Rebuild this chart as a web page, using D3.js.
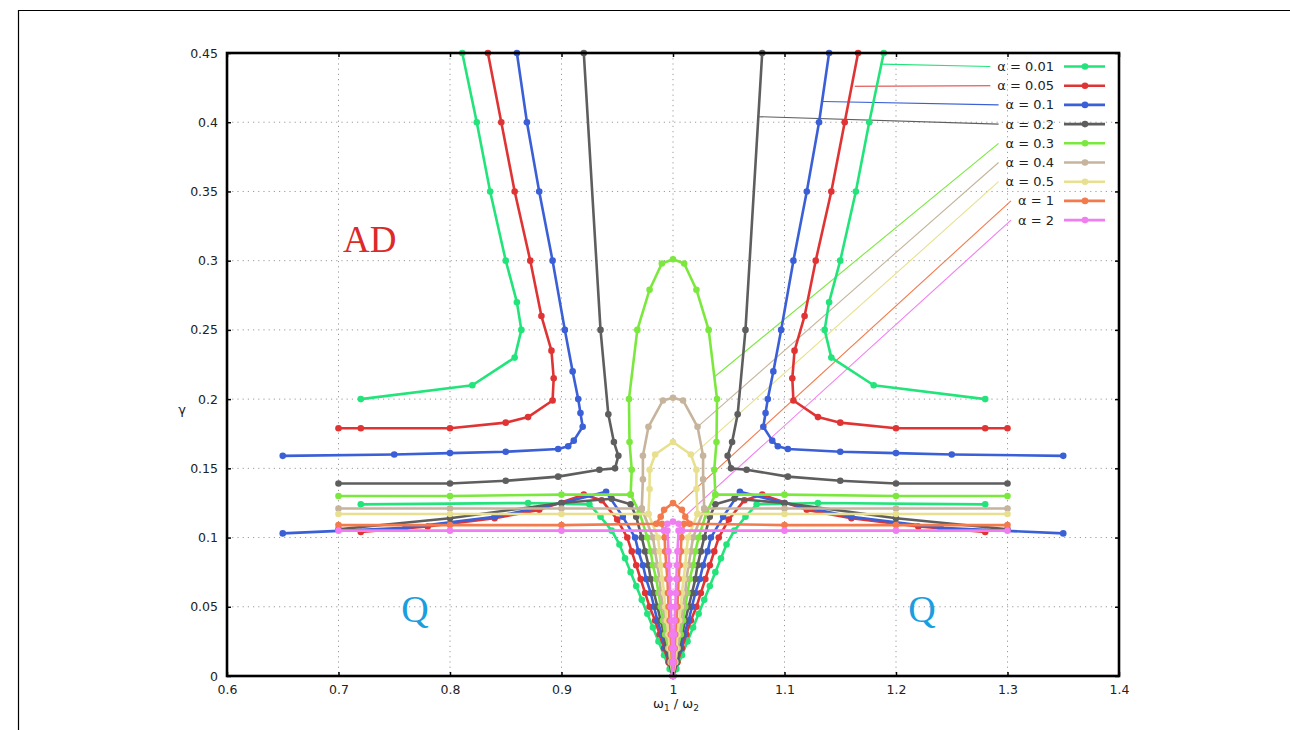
<!DOCTYPE html>
<html><head><meta charset="utf-8">
<script src="https://cdn.jsdelivr.net/npm/d3@7"></script>
<style>body{margin:0;background:#fff;} svg{display:block;}</style>
</head><body>
<svg id="c" width="1290" height="730"></svg>
<script>
// ---------- labels / ticks ----------
const alphaLabels = ["α = 0.01","α = 0.05","α = 0.1","α = 0.2","α = 0.3","α = 0.4","α = 0.5","α = 1","α = 2"];
const seriesColors = ["#22e47a","#e03434","#3a5fd6","#5e5e5e","#7be83e","#c6b49c","#e8e08e","#f27a4c","#f07ef0"];
const xTicks = [0.6,0.7,0.8,0.9,1.0,1.1,1.2,1.3,1.4];
const xTickLabels = ["0.6","0.7","0.8","0.9","1","1.1","1.2","1.3","1.4"];
const yTicks = [0,0.05,0.1,0.15,0.2,0.25,0.3,0.35,0.4,0.45];
const yTickLabels = ["0","0.05","0.1","0.15","0.2","0.25","0.3","0.35","0.4","0.45"];

// ---------- α = 0.01 ----------
const a001_up_L = [[0.72,0.200],[0.82,0.210],[0.858,0.230],[0.864,0.250],[0.860,0.270],[0.850,0.300],[0.836,0.350],[0.824,0.400],[0.811,0.450]];
const a001_up_R = [[1.28,0.200],[1.18,0.210],[1.142,0.230],[1.136,0.250],[1.140,0.270],[1.150,0.300],[1.164,0.350],[1.176,0.400],[1.189,0.450]];
const a001_low_L = [[0.72,0.124],[0.87,0.125],[0.925,0.124],[0.935,0.115],[0.945,0.105],[0.952,0.095],[0.957,0.085],[0.962,0.075],[0.967,0.065],[0.972,0.055],[0.977,0.045],[0.982,0.035],[0.987,0.025],[0.992,0.015],[0.997,0.005],[1.0,0.0]];
const a001_low_R = [[1.28,0.124],[1.13,0.125],[1.075,0.124],[1.065,0.115],[1.055,0.105],[1.048,0.095],[1.043,0.085],[1.038,0.075],[1.033,0.065],[1.028,0.055],[1.023,0.045],[1.018,0.035],[1.013,0.025],[1.008,0.015],[1.003,0.005],[1.0,0.0]];

// ---------- α = 0.05 ----------
const a005_up_L = [[0.70,0.179],[0.72,0.179],[0.80,0.179],[0.85,0.183],[0.87,0.187],[0.892,0.199],[0.893,0.215],[0.891,0.235],[0.882,0.260],[0.872,0.300],[0.858,0.350],[0.846,0.400],[0.834,0.450]];
const a005_up_R = [[1.30,0.179],[1.28,0.179],[1.20,0.179],[1.15,0.183],[1.13,0.187],[1.108,0.199],[1.107,0.215],[1.109,0.235],[1.118,0.260],[1.128,0.300],[1.142,0.350],[1.154,0.400],[1.166,0.450]];
const a005_low_L = [[0.72,0.104],[0.78,0.108],[0.84,0.114],[0.88,0.120],[0.92,0.131],[0.936,0.127],[0.950,0.113],[0.959,0.100],[0.963,0.090],[0.967,0.080],[0.971,0.070],[0.975,0.060],[0.979,0.050],[0.984,0.040],[0.988,0.030],[0.992,0.020],[0.996,0.010],[1.0,0.0]];
const a005_low_R = [[1.28,0.104],[1.22,0.108],[1.16,0.114],[1.12,0.120],[1.08,0.131],[1.064,0.127],[1.050,0.113],[1.041,0.100],[1.037,0.090],[1.033,0.080],[1.029,0.070],[1.025,0.060],[1.021,0.050],[1.016,0.040],[1.012,0.030],[1.008,0.020],[1.004,0.010],[1.0,0.0]];

// ---------- α = 0.1 ----------
const a01_up_L = [[0.65,0.159],[0.75,0.160],[0.80,0.161],[0.85,0.162],[0.897,0.164],[0.906,0.166],[0.911,0.170],[0.919,0.180],[0.917,0.190],[0.915,0.200],[0.910,0.220],[0.903,0.250],[0.892,0.300],[0.880,0.350],[0.869,0.400],[0.860,0.450]];
const a01_up_R = [[1.35,0.159],[1.25,0.160],[1.20,0.161],[1.15,0.162],[1.103,0.164],[1.094,0.166],[1.089,0.170],[1.081,0.180],[1.083,0.190],[1.085,0.200],[1.090,0.220],[1.097,0.250],[1.108,0.300],[1.120,0.350],[1.131,0.400],[1.140,0.450]];
const a01_low_L = [[0.65,0.103],[0.76,0.107],[0.84,0.115],[0.90,0.125],[0.94,0.133],[0.955,0.115],[0.966,0.100],[0.969,0.090],[0.973,0.080],[0.976,0.070],[0.980,0.060],[0.983,0.050],[0.986,0.040],[0.990,0.030],[0.993,0.020],[0.997,0.010],[1.0,0.0]];
const a01_low_R = [[1.35,0.103],[1.24,0.107],[1.16,0.115],[1.10,0.125],[1.06,0.133],[1.045,0.115],[1.034,0.100],[1.031,0.090],[1.027,0.080],[1.024,0.070],[1.020,0.060],[1.017,0.050],[1.014,0.040],[1.010,0.030],[1.007,0.020],[1.003,0.010],[1.0,0.0]];

// ---------- α = 0.2 ----------
const a02_up_L = [[0.70,0.139],[0.80,0.139],[0.85,0.141],[0.897,0.144],[0.934,0.149],[0.948,0.150],[0.951,0.159],[0.947,0.169],[0.942,0.189],[0.935,0.250],[0.920,0.450]];
const a02_up_R = [[1.30,0.139],[1.20,0.139],[1.15,0.141],[1.103,0.144],[1.066,0.149],[1.052,0.150],[1.049,0.159],[1.053,0.169],[1.058,0.189],[1.065,0.250],[1.080,0.450]];
const a02_low_L = [[0.70,0.106],[0.80,0.114],[0.90,0.125],[0.945,0.128],[0.962,0.124],[0.967,0.115],[0.972,0.100],[0.975,0.090],[0.978,0.080],[0.980,0.070],[0.983,0.060],[0.986,0.050],[0.989,0.040],[0.992,0.030],[0.994,0.020],[0.997,0.010],[1.0,0.0]];
const a02_low_R = [[1.30,0.106],[1.20,0.114],[1.10,0.125],[1.055,0.128],[1.038,0.124],[1.033,0.115],[1.028,0.100],[1.025,0.090],[1.022,0.080],[1.020,0.070],[1.017,0.060],[1.014,0.050],[1.011,0.040],[1.008,0.030],[1.006,0.020],[1.003,0.010],[1.0,0.0]];

// ---------- α = 0.3 ----------
const a03_main = [[0.70,0.130],[0.80,0.130],[0.90,0.131],[0.962,0.131],[0.963,0.149],[0.961,0.169],[0.9605,0.200],[0.968,0.250],[0.979,0.279],[0.990,0.298],[1.000,0.301],[1.010,0.298],[1.021,0.279],[1.032,0.250],[1.0395,0.200],[1.039,0.169],[1.037,0.149],[1.038,0.131],[1.10,0.131],[1.20,0.130],[1.30,0.130]];
const a03_v_L = [[0.962,0.131],[0.970,0.118],[0.977,0.100],[0.980,0.090],[0.982,0.080],[0.985,0.070],[0.987,0.060],[0.989,0.050],[0.991,0.040],[0.993,0.030],[0.996,0.020],[0.998,0.010],[1.0,0.0]];
const a03_v_R = [[1.038,0.131],[1.030,0.118],[1.023,0.100],[1.020,0.090],[1.018,0.080],[1.015,0.070],[1.013,0.060],[1.011,0.050],[1.009,0.040],[1.007,0.030],[1.004,0.020],[1.002,0.010],[1.0,0.0]];

// ---------- α = 0.4 ----------
const a04_main = [[0.70,0.121],[0.80,0.121],[0.90,0.121],[0.972,0.121],[0.973,0.142],[0.973,0.159],[0.978,0.180],[0.991,0.199],[1.000,0.201],[1.009,0.199],[1.022,0.180],[1.027,0.159],[1.027,0.142],[1.028,0.121],[1.10,0.121],[1.20,0.121],[1.30,0.121]];
const a04_v_L = [[0.972,0.121],[0.982,0.100],[0.984,0.090],[0.986,0.080],[0.988,0.070],[0.989,0.060],[0.991,0.050],[0.993,0.040],[0.995,0.030],[0.996,0.020],[0.998,0.010],[1.0,0.0]];
const a04_v_R = [[1.028,0.121],[1.018,0.100],[1.016,0.090],[1.014,0.080],[1.012,0.070],[1.011,0.060],[1.009,0.050],[1.007,0.040],[1.005,0.030],[1.004,0.020],[1.002,0.010],[1.0,0.0]];

// ---------- α = 0.5 ----------
const a05_main = [[0.70,0.117],[0.80,0.117],[0.90,0.117],[0.978,0.117],[0.979,0.135],[0.979,0.149],[0.984,0.160],[1.000,0.169],[1.016,0.160],[1.021,0.149],[1.021,0.135],[1.022,0.117],[1.10,0.117],[1.20,0.117],[1.30,0.117]];
const a05_v_L = [[0.978,0.117],[0.9865,0.100],[0.988,0.090],[0.989,0.080],[0.9905,0.070],[0.992,0.060],[0.993,0.050],[0.9945,0.040],[0.996,0.030],[0.997,0.020],[0.9985,0.010],[1.0,0.0]];
const a05_v_R = [[1.022,0.117],[1.0135,0.100],[1.012,0.090],[1.011,0.080],[1.0095,0.070],[1.008,0.060],[1.007,0.050],[1.0055,0.040],[1.004,0.030],[1.003,0.020],[1.0015,0.010],[1.0,0.0]];

// ---------- α = 1 ----------
const a1_main = [[0.70,0.109],[0.80,0.109],[0.90,0.109],[0.985,0.110],[0.989,0.115],[0.992,0.120],[1.000,0.125],[1.008,0.120],[1.011,0.115],[1.015,0.110],[1.10,0.109],[1.20,0.109],[1.30,0.109]];
const a1_v_L = [[0.990,0.110],[0.9925,0.100],[0.993,0.090],[0.994,0.080],[0.995,0.070],[0.9955,0.060],[0.996,0.050],[0.997,0.040],[0.998,0.030],[0.9985,0.020],[0.999,0.010],[1.0,0.0]];
const a1_v_R = [[1.010,0.110],[1.0075,0.100],[1.007,0.090],[1.006,0.080],[1.005,0.070],[1.0045,0.060],[1.004,0.050],[1.003,0.040],[1.002,0.030],[1.0015,0.020],[1.001,0.010],[1.0,0.0]];

// ---------- α = 2 ----------
const a2_main = [[0.70,0.105],[0.80,0.105],[0.90,0.105],[0.992,0.105],[0.995,0.110],[1.000,0.1115],[1.005,0.110],[1.008,0.105],[1.10,0.105],[1.20,0.105],[1.30,0.105]];
const a2_v_L = [[0.995,0.105],[0.996,0.090],[0.9965,0.080],[0.997,0.070],[0.9975,0.060],[0.998,0.050],[0.9985,0.040],[0.999,0.030],[0.9993,0.020],[0.9996,0.010],[1.0,0.0]];
const a2_v_R = [[1.005,0.105],[1.004,0.090],[1.0035,0.080],[1.003,0.070],[1.0025,0.060],[1.002,0.050],[1.0015,0.040],[1.001,0.030],[1.0007,0.020],[1.0004,0.010],[1.0,0.0]];

// points on each curve that the legend leader lines point at
const leaderTargets = [[1.187,0.442],[1.163,0.426],[1.1345,0.415],[1.076,0.404],[1.037,0.216],[1.022,0.180],[1.017,0.159],[1.005,0.124],[1.010,0.115]];

const seriesBranches = [
  [a001_up_L,a001_up_R,a001_low_L,a001_low_R],
  [a005_up_L,a005_up_R,a005_low_L,a005_low_R],
  [a01_up_L,a01_up_R,a01_low_L,a01_low_R],
  [a02_up_L,a02_up_R,a02_low_L,a02_low_R],
  [a03_main,a03_v_L,a03_v_R],
  [a04_main,a04_v_L,a04_v_R],
  [a05_main,a05_v_L,a05_v_R],
  [a1_main,a1_v_L,a1_v_R],
  [a2_main,a2_v_L,a2_v_R]
];

// ---------- drawing ----------
const svg = d3.select('#c');
const FONT = "DejaVu Sans, Verdana, sans-serif";
const L = 227, R = 1119, T = 53, B = 676;
const x = d3.scaleLinear().domain([0.6,1.4]).range([L,R]);
const y = d3.scaleLinear().domain([0,0.45]).range([B,T]);

// outer frame of picture
svg.append('path').attr('d','M18.5,730 V10.5 H1290').attr('fill','none').attr('stroke','#000').attr('stroke-width',1.2);

// grid
const grid = svg.append('g');
grid.selectAll('.gx').data(xTicks.slice(1,-1)).join('line')
  .attr('x1',d=>x(d)).attr('x2',d=>x(d)).attr('y1',T).attr('y2',B)
  .attr('stroke','#9a9a9a').attr('stroke-width',1).attr('stroke-dasharray','1.2,4');
grid.selectAll('.gy').data(yTicks.slice(1,-1)).join('line')
  .attr('y1',d=>y(d)).attr('y2',d=>y(d)).attr('x1',L).attr('x2',R)
  .attr('stroke','#9a9a9a').attr('stroke-width',1).attr('stroke-dasharray','1.2,4');

// leader lines
const lgX = 1054, lgY0 = 66.5, lgDy = 19.2;
const leaderG = svg.append('g');

// curves
const line = d3.line().x(d=>x(d[0])).y(d=>y(d[1]));
const curvesG = svg.append('g');
seriesBranches.forEach((branches,i)=>{
  const g = curvesG.append('g');
  branches.forEach(br=>{
    g.append('path').attr('d',line(br)).attr('fill','none')
      .attr('stroke',seriesColors[i]).attr('stroke-width',2.6).attr('stroke-linejoin','round');
  });
  branches.forEach(br=>{
    g.selectAll(null).data(br).join('circle')
      .attr('cx',d=>x(d[0])).attr('cy',d=>y(d[1])).attr('r',3.3).attr('fill',seriesColors[i]);
  });
});

// axes with inward ticks
function styleAxis(g){
  g.select('.domain').remove();
  g.selectAll('.tick line').attr('stroke','#000').attr('stroke-width',1.5);
  g.selectAll('text').attr('font-family',FONT).attr('font-size',12.5).attr('fill','#222');
}
svg.append('g').attr('transform',`translate(0,${B})`)
  .call(d3.axisBottom(x).tickValues(xTicks).tickSize(-4).tickPadding(9).tickFormat((d,i)=>xTickLabels[i]))
  .call(styleAxis);
svg.append('g').attr('transform',`translate(0,${T})`)
  .call(d3.axisTop(x).tickValues(xTicks).tickSize(-4).tickFormat(''))
  .call(styleAxis);
svg.append('g').attr('transform',`translate(${L},0)`)
  .call(d3.axisLeft(y).tickValues(yTicks).tickSize(-4).tickPadding(9).tickFormat((d,i)=>yTickLabels[i]))
  .call(styleAxis);
svg.append('g').attr('transform',`translate(${R},0)`)
  .call(d3.axisRight(y).tickValues(yTicks).tickSize(-4).tickFormat(''))
  .call(styleAxis);

svg.append('rect').attr('x',L).attr('y',T).attr('width',R-L).attr('height',B-T)
  .attr('fill','none').attr('stroke','#000').attr('stroke-width',2.6);

// axis titles
svg.append('text').attr('x',182).attr('y',414).attr('text-anchor','middle')
  .attr('font-family',FONT).attr('font-size',13).attr('fill','#222').text('γ');
const xt = svg.append('text').attr('x',676).attr('y',708).attr('text-anchor','middle')
  .attr('font-family',FONT).attr('font-size',13).attr('fill','#222');
xt.append('tspan').text('ω');
xt.append('tspan').attr('font-size',9).attr('dy',3).text('1');
xt.append('tspan').attr('dy',-3).text(' / ω');
xt.append('tspan').attr('font-size',9).attr('dy',3).text('2');

// legend
const lg = svg.append('g');
alphaLabels.forEach((lab,i)=>{
  const yy = lgY0 + i*lgDy;
  const t = lg.append('text').attr('x',lgX).attr('y',yy+4.5).attr('text-anchor','end')
    .attr('font-family',FONT).attr('font-size',13).attr('fill','#222').text(lab);
  lg.append('line').attr('x1',1064).attr('x2',1105).attr('y1',yy).attr('y2',yy)
    .attr('stroke',seriesColors[i]).attr('stroke-width',2.6);
  lg.append('circle').attr('cx',1085).attr('cy',yy).attr('r',3.3).attr('fill',seriesColors[i]);
  const w = t.node().getComputedTextLength();
  leaderG.append('line').attr('x1',lgX - w - 7).attr('y1',yy)
    .attr('x2',x(leaderTargets[i][0])).attr('y2',y(leaderTargets[i][1]))
    .attr('stroke',seriesColors[i]).attr('stroke-width',1.1);
});

// region labels
const SERIF = "Liberation Serif, Times New Roman, serif";
svg.append('text').attr('x',343).attr('y',252).attr('font-family',SERIF).attr('font-size',37)
  .attr('fill','#dc2a2a').text('AD');
svg.append('text').attr('x',415).attr('y',622).attr('text-anchor','middle').attr('font-family',SERIF).attr('font-size',38)
  .attr('fill','#1a9ee0').text('Q');
svg.append('text').attr('x',922).attr('y',622).attr('text-anchor','middle').attr('font-family',SERIF).attr('font-size',38)
  .attr('fill','#1a9ee0').text('Q');
</script>
</body></html>
